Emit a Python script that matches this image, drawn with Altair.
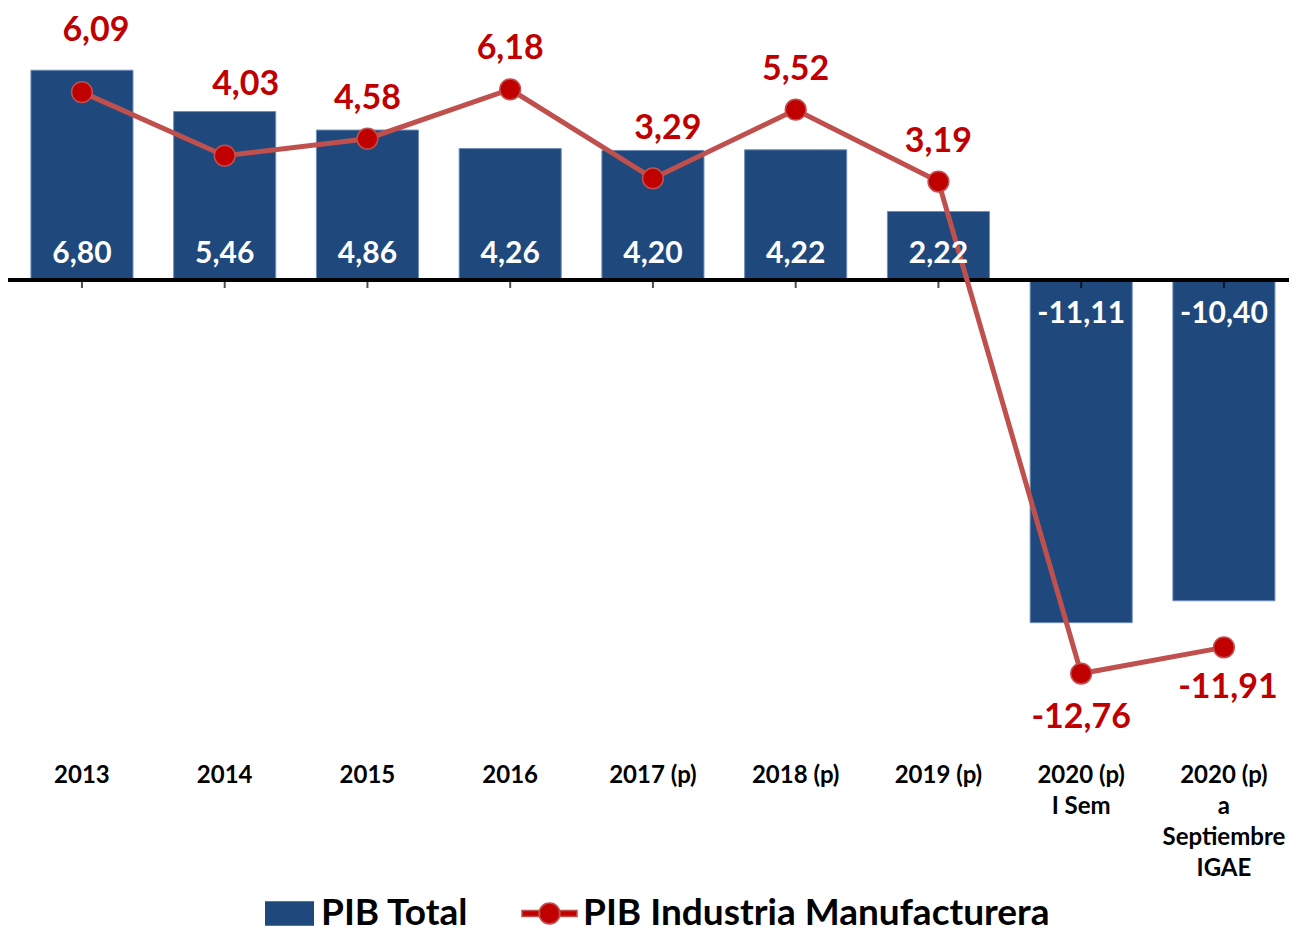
import altair as alt
import pandas as pd

categorias = ["2013", "2014", "2015", "2016", "2017 (p)", "2018 (p)", "2019 (p)",
              "2020 (p)|I Sem", "2020 (p)|a|Septiembre|IGAE"]
pib_total = [6.80, 5.46, 4.86, 4.26, 4.20, 4.22, 2.22, -11.11, -10.40]
pib_manuf = [6.09, 4.03, 4.58, 6.18, 3.29, 5.52, 3.19, -12.76, -11.91]
serie_barras = "PIB Total"
serie_linea = "PIB Industria Manufacturera"


def fmt(v):
    return f"{v:.2f}".replace(".", ",")


df = pd.DataFrame({
    "cat": categorias,
    "total": pib_total,
    "manuf": pib_manuf,
    "total_lbl": [fmt(v) for v in pib_total],
    "manuf_lbl": [fmt(v) for v in pib_manuf],
    "s_bar": serie_barras,
    "s_line": serie_linea,
})

AZUL = "#1F497D"
ROJO_LINEA = "#C0504D"
ROJO = "#C00000"
FONT = "Lato"

# label nudges (pixel style offsets, like hand-placed Excel labels)
NUDGE = {"2013": (14, -61), "2014": (21, -71), "2017 (p)": (15, -49),
         "2020 (p)|a|Septiembre|IGAE": (4, 41)}
DY_POS, DY_NEG = -40, 44

x = alt.X(
    "cat:N", sort=categorias,
    scale=alt.Scale(paddingInner=0.285, paddingOuter=0.1295, align=0.62),
    axis=alt.Axis(title=None, domain=False, ticks=False, labelAngle=0,
                  labelFont=FONT, labelFontWeight="bold", labelFontSize=24,
                  labelColor="black", labelPadding=8, labelLineHeight=31,
                  labelExpr="split(datum.label, '|')"),
)
yscale = alt.Scale(domain=[-15.4, 8.655], nice=False, zero=False)

base = alt.Chart(df)

bar_symbol = "M-1,-0.5 L1,-0.5 L1,0.5 L-1,0.5 Z"
line_symbol = ("M-1,-0.11 L-0.36,-0.11 L-0.36,0.11 L-1,0.11 Z "
               "M0.36,-0.11 L1,-0.11 L1,0.11 L0.36,0.11 Z "
               "M0.38,0 A0.38,0.38 0 1,1 -0.38,0 A0.38,0.38 0 1,1 0.38,0 Z")

legend_text = dict(labelFont=FONT, labelFontWeight="bold", labelFontSize=37,
                   labelColor="black", labelLimit=800, padding=0, title=None,
                   orient="none")

bars = base.mark_bar(stroke="#6F8DB8", strokeWidth=1).encode(
    x=x,
    y=alt.Y("total:Q", scale=yscale, axis=None),
    color=alt.Color("s_bar:N", scale=alt.Scale(domain=[serie_barras], range=[AZUL]),
                    legend=alt.Legend(legendX=257, legendY=876,
                                      symbolType=bar_symbol, symbolSize=2401,
                                      symbolStrokeWidth=0, labelOffset=7,
                                      **legend_text)),
)

zero_rule = base.mark_rule(color="black", strokeWidth=3).encode(y=alt.datum(0))

ticks = base.mark_tick(orient="vertical", size=8, thickness=2, color="black",
                       yOffset=4).encode(x=x, y=alt.datum(0))

line = base.mark_line(color=ROJO_LINEA, strokeWidth=5).encode(
    x=x, y=alt.Y("manuf:Q", scale=yscale))

points = base.mark_circle(size=430, opacity=1, stroke=ROJO_LINEA, strokeWidth=1.5).encode(
    x=x, y=alt.Y("manuf:Q", scale=yscale),
    fill=alt.Fill("s_line:N", scale=alt.Scale(domain=[serie_linea], range=[ROJO]),
                  legend=alt.Legend(legendX=513, legendY=872,
                                    symbolType=line_symbol, symbolSize=3025,
                                    symbolStrokeColor=ROJO_LINEA, symbolStrokeWidth=1.5,
                                    labelOffset=5, **legend_text)),
)

txt = dict(font=FONT, fontWeight="bold")

bar_lbl_pos = base.transform_filter("datum.total > 0").mark_text(
    color="white", fontSize=30, dy=-26, **txt).encode(
    x=x, y=alt.datum(0), text="total_lbl:N")
bar_lbl_neg = base.transform_filter("datum.total < 0").mark_text(
    color="white", fontSize=30, dy=34, **txt).encode(
    x=x, y=alt.datum(0), text="total_lbl:N")

line_labels = []
nudged = list(NUDGE.keys())
nudged_expr = "indexof(" + str(nudged).replace("'", '"') + ", datum.cat) < 0"
line_labels.append(base.transform_filter(nudged_expr).transform_filter("datum.manuf > 0")
                   .mark_text(color=ROJO, fontSize=34, dy=DY_POS, **txt)
                   .encode(x=x, y=alt.Y("manuf:Q", scale=yscale), text="manuf_lbl:N"))
line_labels.append(base.transform_filter(nudged_expr).transform_filter("datum.manuf < 0")
                   .mark_text(color=ROJO, fontSize=34, dy=DY_NEG, **txt)
                   .encode(x=x, y=alt.Y("manuf:Q", scale=yscale), text="manuf_lbl:N"))
for cat, (ddx, ddy) in NUDGE.items():
    line_labels.append(base.transform_filter(alt.datum.cat == cat)
                       .mark_text(color=ROJO, fontSize=34, dx=ddx, dy=ddy, **txt)
                       .encode(x=x, y=alt.Y("manuf:Q", scale=yscale), text="manuf_lbl:N"))

chart = alt.layer(
    bars, zero_rule, ticks, line, points,
    bar_lbl_pos, bar_lbl_neg, *line_labels,
).properties(
    width=1281, height=742,
    padding={"left": 0, "top": 5, "right": 0, "bottom": 178},
    autosize=alt.AutoSizeParams(type="none"),
    background="white",
).configure_view(stroke=None)

chart.save("out.html", embed_options={"renderer": "svg", "actions": False})
